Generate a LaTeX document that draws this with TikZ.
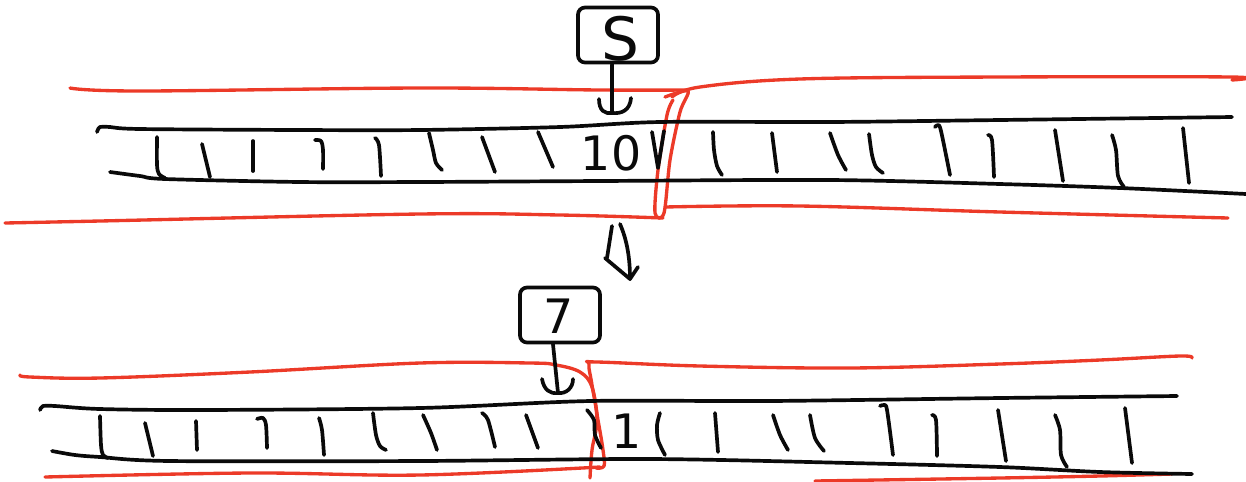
\documentclass[tikz,border=0pt]{standalone}
\usepackage{fontspec}
\newfontfamily\hand{DejaVu Sans}
\definecolor{ink}{RGB}{10,10,10}
\definecolor{marker}{RGB}{236,58,40}
\tikzset{
  pen/.style={draw=ink, line width=2.1pt, line cap=round, line join=round},
  redpen/.style={draw=marker, line width=1.9pt, line cap=round, line join=round},
  statebox/.style={draw=ink, line width=2.1pt, rounded corners=4pt, minimum width=1.6cm, minimum height=1.1cm, inner sep=0pt},
  symbol/.style={inner sep=0pt, text=ink, font=\hand\fontsize{27}{29}\selectfont}
}
\begin{document}
\begin{tikzpicture}[x=0.02cm, y=-0.02cm]
\useasboundingbox (0,0) rectangle (1246,481);

% ---------- upper tape ----------
% band borders (red)
\draw[redpen] plot[smooth, tension=0.6] coordinates {(70,88) (140,91) (420,88) (600,90) (687,90)};
\draw[redpen] plot[smooth, tension=0.6] coordinates {(672,97) (700,87) (800,79) (1000,77) (1230,77) (1232,80)};
\draw[redpen] plot[smooth, tension=0.6] coordinates {(5,223) (100,221) (420,214) (560,215) (663,218)};
\draw[redpen] plot[smooth, tension=0.6] coordinates {(665,207) (800,206) (1000,212) (1228,218)};
\draw[redpen] plot[smooth, tension=0.5] coordinates {(665,97) (688,91) (680,112) (670,160) (664,213) (655,213) (658,170) (667,115) (673,100)};

% tape edges
\draw[pen] plot[smooth, tension=0.5] coordinates {(97,132) (100,127) (110,127) (140,129) (300,130) (420,130) (560,127) (660,122) (830,122) (1000,120) (1232,117)};
\draw[pen] plot[smooth, tension=0.5] coordinates {(110,172) (140,176) (165,179) (300,182) (420,182) (600,181) (830,180) (1000,184) (1120,188) (1246,194)};

% cell marks
\draw[pen] plot[smooth] coordinates {(157,137) (157,165) (159,174) (165,178)};
\draw[pen] (202,144) -- (210,177);
\draw[pen] (253,141) -- (253,171);
\draw[pen] plot[smooth] coordinates {(315,140) (321,141) (323,150) (323,169)};
\draw[pen] plot[smooth] coordinates {(375,138) (379,145) (381,176)};
\draw[pen] plot[smooth] coordinates {(429,133) (433,150) (436,163) (442,170)};
\draw[pen] (482,137) -- (495,172);
\draw[pen] (538,132) -- (553,167);
\draw[pen] (652,132) -- (658,168) -- (664,131);
\draw[pen] plot[smooth] coordinates {(713,132) (714,150) (717,166) (722,175)};
\draw[pen] (772,133) -- (777,172);
\draw[pen] plot[smooth] coordinates {(830,133) (838,155) (846,170)};
\draw[pen] plot[smooth] coordinates {(869,134) (872,155) (876,167) (883,173)};
\draw[pen] plot[smooth] coordinates {(935,127) (938,125) (941,131) (950,175)};
\draw[pen] plot[smooth] coordinates {(988,135) (992,140) (994,177)};
\draw[pen] (1055,130) -- (1063,181);
\draw[pen] plot[smooth] coordinates {(1112,135) (1116,150) (1118,176) (1124,187)};
\draw[pen] (1183,128) -- (1189,183);

\node[symbol] (cellA) at (611,153) {10};

% head with its state
\node[statebox] (s) at (618,35) {};
\node[symbol, font=\hand\fontsize{34}{36}\selectfont] (sym) at (620,39) {S};
\coordinate (sTip) at (612,113);
\draw[pen] ([xshift=-0.12cm]s.south) -- (sTip);
\draw[pen] (599,99) .. controls (599,111) and (605,114) .. (sTip) .. controls (622,114) and (630,110) .. (631,98);

% ---------- step arrow ----------
\coordinate (stepA) at (612,226);
\coordinate (stepB) at (630,279);
\draw[pen] (stepA) -- (607,258);
\draw[pen] (620,224) .. controls (627,240) and (630,258) .. (stepB);
\draw[pen] (605,258) -- (stepB) -- (638,267);

% ---------- lower tape ----------
\draw[redpen] plot[smooth, tension=0.6] coordinates {(20,375) (30,377) (100,378) (250,372) (420,363) (530,363) (556,365) (580,372) (592,387) (598,420) (603,450) (604,466) (596,468)};
\draw[redpen] plot[smooth, tension=0.6] coordinates {(590,478) (592,450) (597,420) (592,385) (589,364) (597,362) (700,366) (850,368) (1000,364) (1100,360) (1180,356) (1192,358)};
\draw[redpen] plot[smooth, tension=0.6] coordinates {(45,477) (250,473) (420,475) (600,467)};
\draw[redpen] plot[smooth, tension=0.6] coordinates {(815,481) (1000,478) (1100,476) (1172,474)};

\draw[pen] plot[smooth, tension=0.5] coordinates {(40,410) (43,406) (55,406) (100,409) (200,410) (420,408) (590,401) (770,401) (1000,398) (1177,396)};
\draw[pen] plot[smooth, tension=0.5] coordinates {(52,451) (75,455) (100,457) (170,461) (420,461) (650,459) (850,463) (1000,467) (1100,472) (1192,474)};

\draw[pen] plot[smooth] coordinates {(100,416) (101,445) (103,455) (108,458)};
\draw[pen] (145,423) -- (153,456);
\draw[pen] (196,421) -- (197,450);
\draw[pen] plot[smooth] coordinates {(257,419) (263,418) (266,425) (267,448)};
\draw[pen] plot[smooth] coordinates {(319,418) (322,430) (324,455)};
\draw[pen] plot[smooth] coordinates {(373,413) (376,435) (380,446) (386,450)};
\draw[pen] plot[smooth] coordinates {(423,415) (431,433) (437,450)};
\draw[pen] plot[smooth] coordinates {(482,413) (488,420) (495,447)};
\draw[pen] (526,415) -- (538,448);
\draw[pen] plot[smooth] coordinates {(587,410) (594,420) (595,435) (601,448)};
\draw[pen] plot[smooth] coordinates {(660,413) (657,425) (658,440) (665,455)};
\draw[pen] (715,413) -- (718,452);
\draw[pen] plot[smooth] coordinates {(773,415) (780,435) (788,450)};
\draw[pen] plot[smooth] coordinates {(810,415) (815,438) (824,451)};
\draw[pen] plot[smooth] coordinates {(880,406) (884,405) (887,410) (893,455)};
\draw[pen] plot[smooth] coordinates {(932,415) (936,420) (937,456)};
\draw[pen] (998,410) -- (1006,461);
\draw[pen] plot[smooth] coordinates {(1055,415) (1060,430) (1061,455) (1067,467)};
\draw[pen] (1125,408) -- (1132,463);

\node[symbol] (cellB) at (627,431) {1};

\node[statebox] (q) at (560,315) {};
\node[symbol] (qsym) at (559,316) {7};
\coordinate (qTip) at (558,393);
\draw[pen] ([xshift=-0.14cm]q.south) -- (qTip);
\draw[pen] (542,379) .. controls (544,390) and (550,394) .. (qTip) .. controls (566,394) and (573,388) .. (573,379);
\end{tikzpicture}
\end{document}
